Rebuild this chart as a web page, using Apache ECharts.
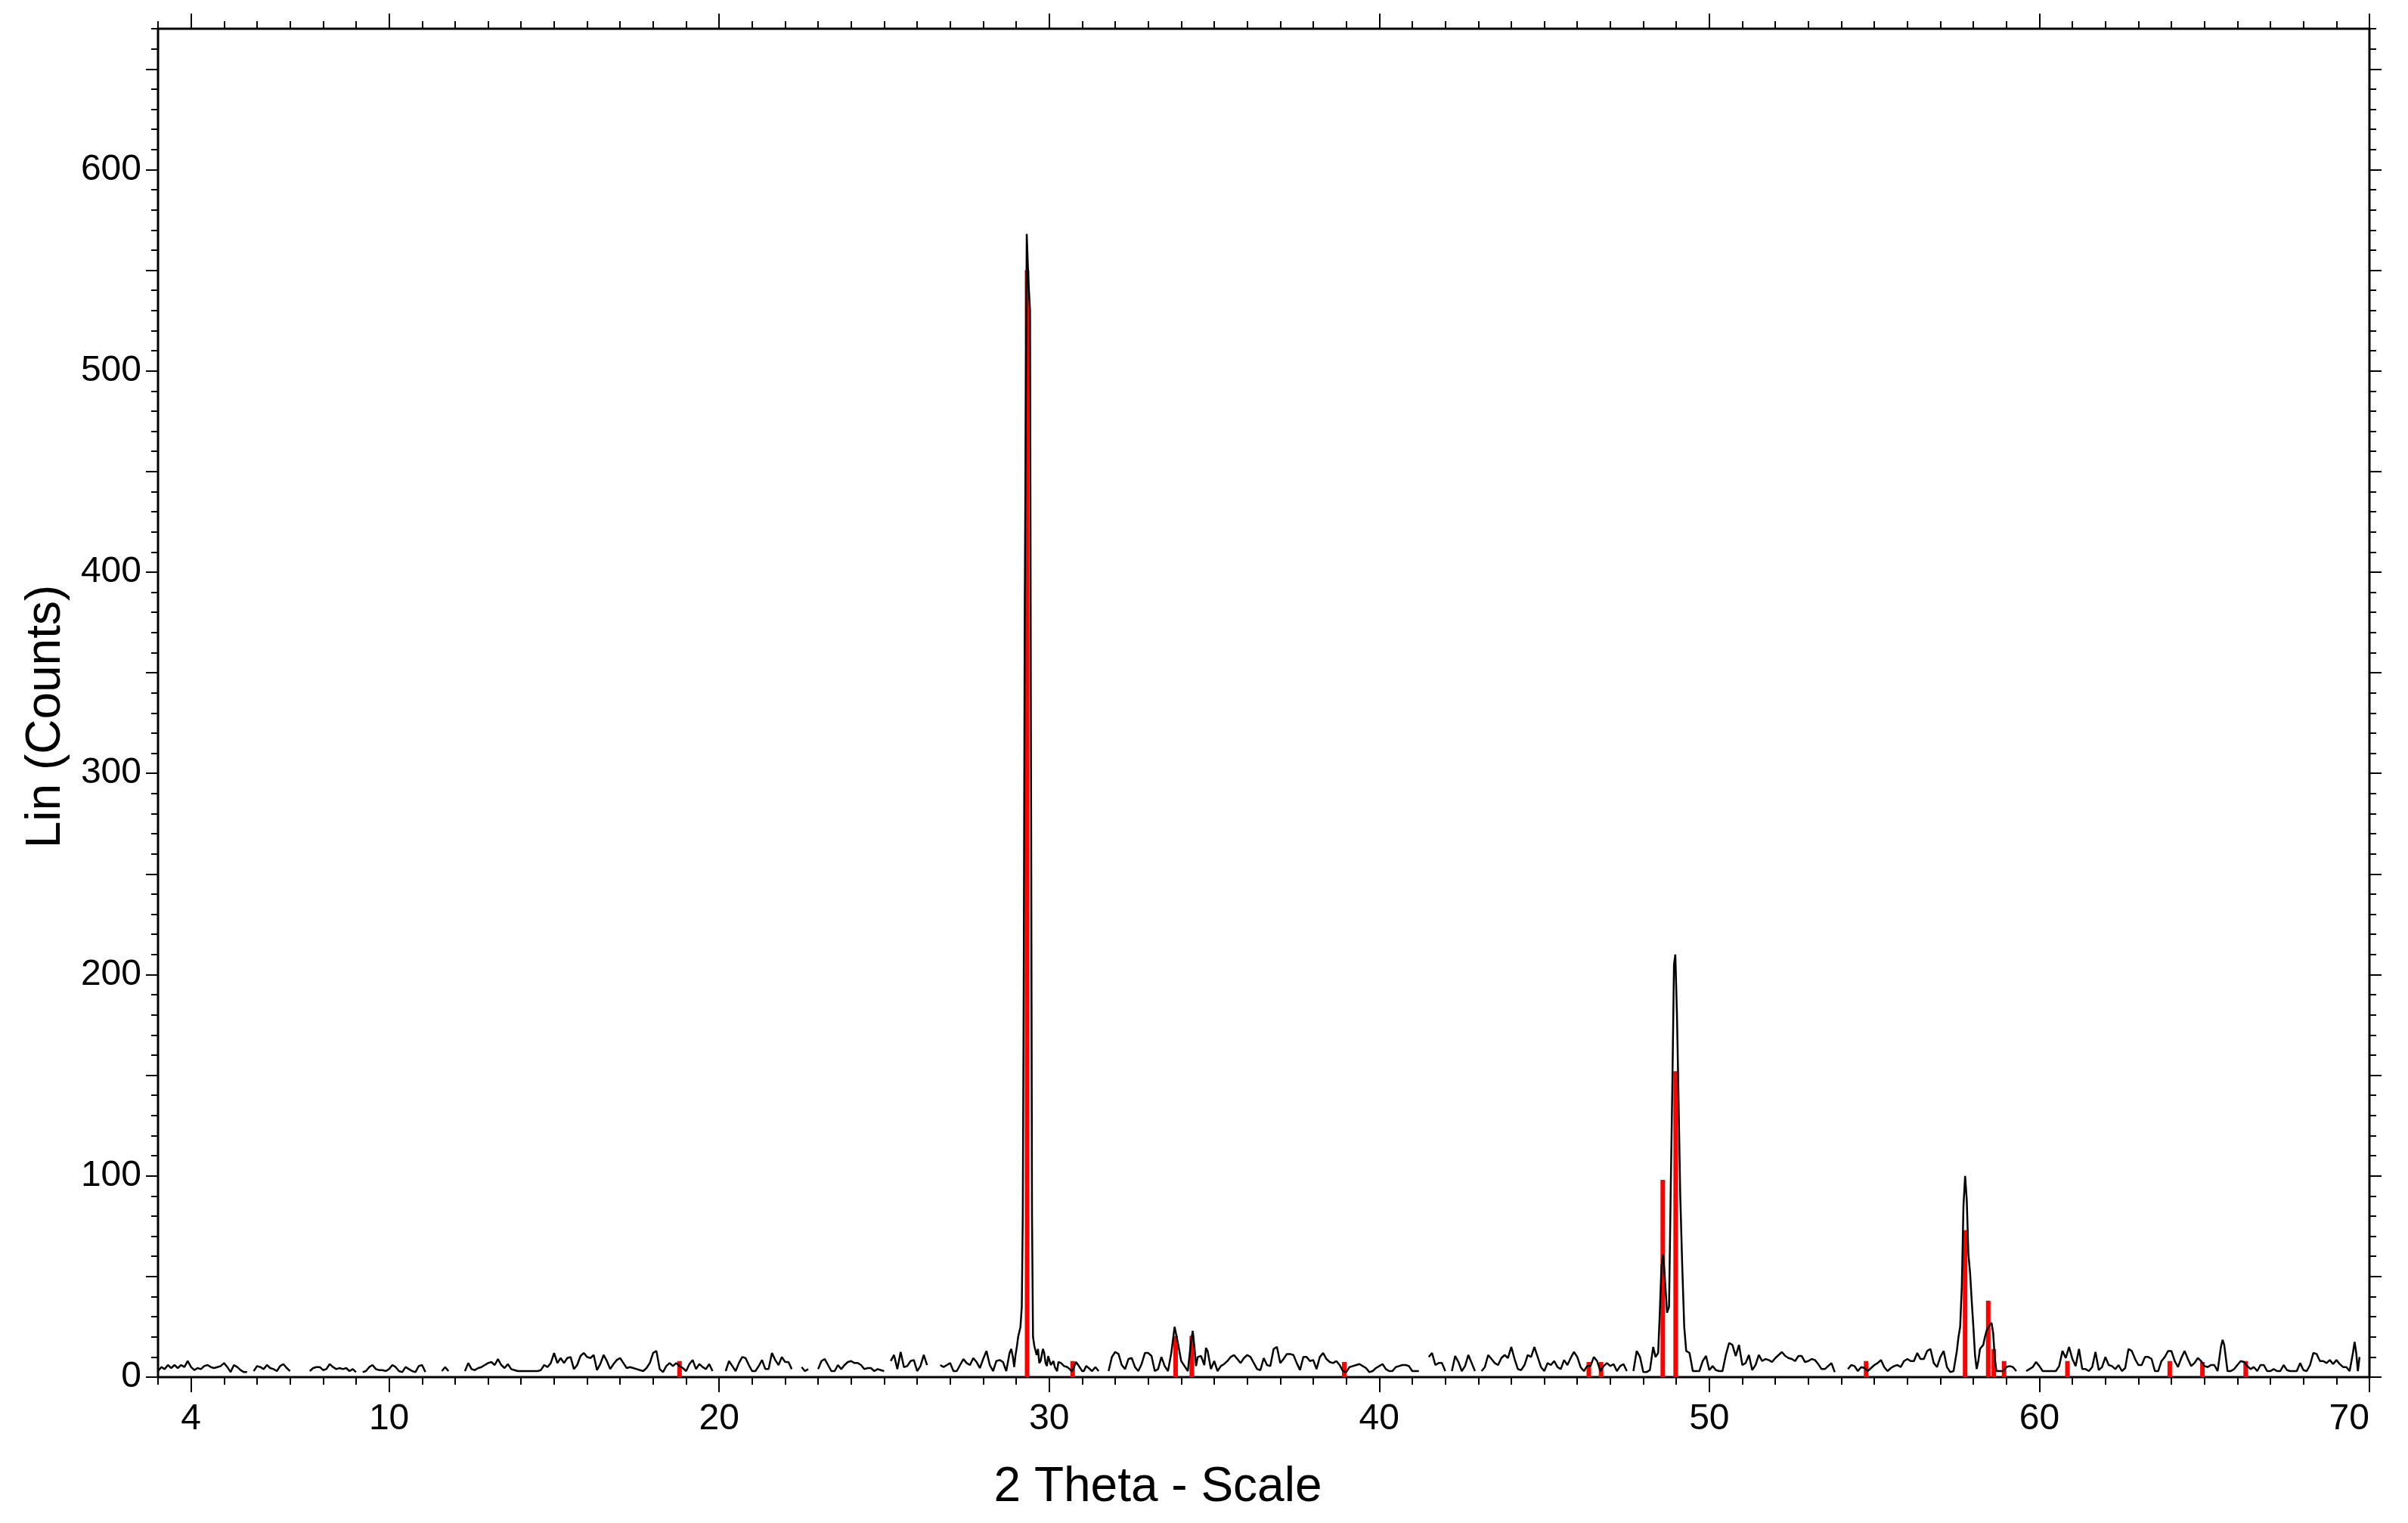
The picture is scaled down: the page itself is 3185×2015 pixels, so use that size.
<!DOCTYPE html>
<html lang="en">

<head>
  <meta charset="UTF-8" />
  <title>XRD pattern</title>
  <style>
    html, body { margin: 0; padding: 0; background: #fff; }
  </style>
</head>

<body>
  <div id="main" style="width: 3185px; height: 2015px;"></div>
  <script src="https://cdn.jsdelivr.net/npm/echarts@6/dist/echarts.min.js"></script>
  <script type="text/javascript">
    // measured scan, [2theta, counts]; null = where the trace drops out
    const scan03to14 = [[3.0,3],[3.1,5],[3.2,4],[3.3,6],[3.4,4.5],[3.5,6],[3.6,4.5],[3.7,6],[3.8,5],[3.9,8],[4.0,5],[4.1,3.5],[4.2,4.5],[4.3,4],[4.4,5.5],[4.5,6],[4.6,5],[4.7,4.5],[4.8,5],[4.9,5.5],[5.0,7],[5.1,5],[5.2,2.5],[5.3,6],[5.4,5],[5.5,3.5],[5.6,2.5],[5.7,2.5],[5.8,null],[5.9,3],[6.0,5.5],[6.1,5],[6.2,4],[6.3,6],[6.4,4.5],[6.5,4],[6.6,3],[6.7,5.5],[6.8,6.5],[6.9,4.5],[7.0,3],[7.1,null],[7.5,null],[7.6,3],[7.7,4.5],[7.8,5],[7.9,5],[8.0,3.5],[8.1,4],[8.2,6.5],[8.3,5],[8.4,4],[8.5,4.5],[8.6,4],[8.7,4.5],[8.8,3],[8.9,4],[9.0,2.5],[9.1,null],[9.2,2.5],[9.3,3],[9.4,5],[9.5,6],[9.6,4],[9.7,3.5],[9.8,3.5],[9.9,3],[10.0,4],[10.1,6],[10.2,5],[10.3,3],[10.4,2.5],[10.5,5],[10.6,4],[10.7,3],[10.8,2.5],[10.9,5.5],[11.0,6],[11.1,2.5],[11.2,null],[11.5,null],[11.6,3],[11.7,5],[11.8,3],[11.9,null],[12.2,null],[12.3,3],[12.4,7],[12.5,4],[12.6,3.5],[12.7,4.5],[12.8,5],[12.9,6],[13.0,7],[13.1,7.5],[13.2,6],[13.3,9],[13.4,6],[13.5,4.5],[13.6,6.5],[13.7,4],[13.8,3.5],[13.9,3],[14.0,3],[14.1,3],[14.2,3]]

    const scan14to25 = [[14.3,3],[14.4,3],[14.5,3],[14.6,3.5],[14.7,6],[14.8,5],[14.9,7],[15.0,12],[15.1,7],[15.2,9.5],[15.3,7],[15.4,9.5],[15.5,10],[15.6,4],[15.7,6],[15.8,10.5],[15.9,12],[16.0,10],[16.1,9.5],[16.2,11],[16.3,3.5],[16.4,6.5],[16.5,11],[16.6,8],[16.7,4],[16.8,6.5],[16.9,8.5],[17.0,9.5],[17.1,7],[17.2,4.5],[17.3,5],[17.4,4.5],[17.5,4],[17.6,3.5],[17.7,3],[17.8,4.5],[17.9,7],[18.0,12],[18.1,13],[18.2,4],[18.3,2.5],[18.4,5.5],[18.5,7],[18.6,5.5],[18.7,7],[18.8,5.5],[18.9,4.5],[19.0,3],[19.1,6.5],[19.2,8.5],[19.3,4],[19.4,6.5],[19.5,5],[19.6,4],[19.7,6.5],[19.8,3],[19.9,null],[20.1,null],[20.2,3],[20.3,8],[20.4,5.5],[20.5,3],[20.6,7],[20.7,10],[20.8,9.5],[20.9,6],[21.0,3],[21.1,3],[21.2,5.5],[21.3,8.5],[21.4,4],[21.5,4],[21.6,12],[21.7,8.5],[21.8,6],[21.9,10],[22.0,7.5],[22.1,7.5],[22.2,4],[22.3,null],[22.4,null],[22.5,5],[22.6,3],[22.7,4],[22.8,null],[22.9,null],[23.0,4],[23.1,8],[23.2,9],[23.3,6],[23.4,3],[23.5,3],[23.6,6],[23.7,4],[23.8,6],[23.9,7.5],[24.0,8],[24.1,7],[24.2,7],[24.3,6],[24.4,4],[24.5,4.5],[24.6,4.5],[24.7,3],[24.8,4],[24.9,3.5],[25.0,3],[25.1,null],[25.2,8],[25.3,11],[25.4,4]]

    const scan25to36 = [[25.5,12.5],[25.6,5],[25.7,5.5],[25.8,8],[25.9,8.5],[26.0,3],[26.1,5.5],[26.2,11],[26.3,6],[26.4,null],[26.6,null],[26.7,6],[26.8,5],[26.9,6],[27.0,7],[27.1,3],[27.2,3],[27.3,6],[27.4,9],[27.5,7],[27.6,6],[27.7,9.5],[27.8,7.5],[27.9,4.5],[28.0,9],[28.1,13],[28.2,6],[28.3,3],[28.4,8],[28.5,8.5],[28.6,7.5],[28.7,3],[28.8,12],[28.85,14],[28.9,10],[28.94,5],[28.98,11],[29.02,15],[29.06,20],[29.13,25],[29.17,35],[29.2,80],[29.23,200],[29.26,384],[29.32,568],[29.37,545],[29.42,530],[29.45,300],[29.48,80],[29.51,20],[29.55,15.5],[29.58,16],[29.62,11],[29.66,14],[29.7,7],[29.74,8],[29.81,14],[29.85,12],[29.89,7],[29.93,5.5],[29.97,10.5],[30.05,6],[30.13,8],[30.17,5],[30.24,3],[30.28,7.5],[30.36,7],[30.45,5.5],[30.55,5],[30.62,4],[30.68,3],[30.74,4.5],[30.81,7.5],[30.9,5.5],[31.0,3],[31.05,3],[31.12,5.5],[31.2,4.5],[31.3,3],[31.4,5],[31.5,3],[31.6,null],[31.7,null],[31.8,3],[31.9,10],[32.0,12.5],[32.1,11.5],[32.2,6],[32.3,4],[32.4,9],[32.5,9.5],[32.6,5],[32.7,3],[32.8,6.5],[32.9,12],[33.0,12],[33.1,10.5],[33.2,3],[33.3,4],[33.4,10],[33.5,5.5],[33.6,3],[33.7,12],[33.8,25],[33.9,17],[34.0,8],[34.1,5.5],[34.2,3],[34.3,18],[34.35,23],[34.4,15],[34.45,5.5],[34.5,10],[34.6,10.5],[34.7,6],[34.75,14.5],[34.8,13],[34.9,4],[35.0,8],[35.1,3],[35.2,5.5],[35.3,6.5],[35.4,8],[35.5,10],[35.6,11],[35.7,9],[35.8,7],[35.9,9.5],[36.0,11],[36.1,10],[36.2,7],[36.3,4],[36.4,3.5],[36.5,9.5],[36.6,6]]

    const scan36to48 = [[36.7,5.5],[36.8,14],[36.9,15],[37.0,7],[37.1,9],[37.2,11.5],[37.3,11.5],[37.4,11],[37.5,7],[37.6,3.5],[37.7,10],[37.8,10],[37.9,8],[38.0,8.5],[38.1,4],[38.2,10],[38.3,12],[38.4,9],[38.5,7.5],[38.6,7],[38.7,8],[38.8,6],[38.9,3],[39.0,2.5],[39.1,5],[39.2,5.5],[39.3,6],[39.4,6.5],[39.5,5.5],[39.6,4.5],[39.7,2.5],[39.8,3],[39.9,4.5],[40.0,5.5],[40.1,6.5],[40.2,4],[40.3,3],[40.4,3],[40.5,5],[40.6,5.5],[40.7,6],[40.8,6],[40.9,5.5],[41.0,3],[41.1,3],[41.2,3],[41.3,null],[41.4,null],[41.5,10],[41.6,12],[41.7,6],[41.8,7],[41.9,7],[42.0,3],[42.1,null],[42.2,3],[42.3,10.5],[42.4,7.5],[42.5,3],[42.6,5.5],[42.7,11],[42.8,7],[42.9,3],[43.0,null],[43.1,3],[43.2,5],[43.3,11],[43.4,9],[43.5,7],[43.6,6],[43.7,9.5],[43.8,11],[43.9,9.5],[44.0,15],[44.1,9],[44.2,4],[44.3,3.5],[44.4,6],[44.5,11],[44.6,10],[44.7,15],[44.8,10],[44.9,5],[45.0,3],[45.1,7],[45.2,6],[45.3,8],[45.4,5],[45.5,4],[45.6,8.5],[45.7,6],[45.8,9.5],[45.9,12.5],[46.0,10],[46.1,5],[46.2,3],[46.3,5.5],[46.4,5.5],[46.5,10],[46.6,8],[46.7,3],[46.8,5.5],[46.9,7],[47.0,5.5],[47.1,6.5],[47.2,3],[47.3,5.5],[47.4,6.5],[47.5,3],[47.6,null],[47.7,3],[47.8,13],[47.9,10]]

    const scan48to59 = [[48.0,2.5],[48.1,2.5],[48.2,3.5],[48.3,15],[48.37,10],[48.45,12],[48.5,32],[48.55,55],[48.6,61],[48.65,50],[48.72,32],[48.78,35],[48.83,92],[48.88,145],[48.93,205],[48.97,210],[49.02,180],[49.06,145],[49.12,90],[49.18,55],[49.24,25],[49.3,13],[49.4,12],[49.5,3],[49.6,3],[49.7,3],[49.8,8],[49.9,10.5],[50.0,3.5],[50.1,5.5],[50.2,3.5],[50.3,3],[50.4,3],[50.5,11],[50.6,17],[50.7,16],[50.8,10.5],[50.9,16],[51.0,6],[51.1,7],[51.2,11],[51.3,3.5],[51.4,6],[51.5,11],[51.6,8],[51.7,9],[51.8,8.5],[51.9,7.5],[52.0,9.5],[52.1,11],[52.2,12.5],[52.3,10.5],[52.4,9.5],[52.5,9],[52.6,8],[52.7,10.5],[52.8,10.5],[52.9,7.5],[53.0,8],[53.1,9],[53.2,8.5],[53.3,6.5],[53.4,4],[53.5,4],[53.6,5.5],[53.7,7],[53.8,2.5],[53.9,null],[54.1,null],[54.2,4],[54.3,6],[54.4,5.5],[54.5,3],[54.6,5],[54.7,4.5],[54.8,3],[54.9,4.5],[55.0,6],[55.1,7],[55.2,8.5],[55.3,5],[55.4,3],[55.5,4.5],[55.6,5.5],[55.7,6],[55.8,5],[55.9,8],[56.0,9],[56.1,8],[56.2,8],[56.3,12],[56.4,9],[56.5,9],[56.6,13],[56.7,14],[56.8,7],[56.9,5],[57.0,10],[57.1,13],[57.2,5],[57.3,2.5],[57.4,3],[57.5,13],[57.55,20],[57.6,25],[57.65,45],[57.7,85],[57.75,100],[57.8,88],[57.85,61],[57.9,52],[57.95,38],[58.0,25],[58.05,11],[58.1,4],[58.15,8],[58.2,14],[58.25,15],[58.3,16],[58.35,20],[58.4,23],[58.5,26],[58.55,27],[58.6,22],[58.65,9],[58.7,3],[58.8,3],[58.9,3],[59.0,5]]

    const scan59to70 = [[59.1,5.5],[59.2,5],[59.3,3],[59.4,null],[59.5,null],[59.6,3],[59.7,4],[59.8,5],[59.9,7.5],[60.0,5.5],[60.1,3],[60.2,3],[60.3,3],[60.4,3],[60.5,3],[60.6,5.5],[60.7,13],[60.8,9.5],[60.9,15],[61.0,9],[61.1,5.5],[61.2,14],[61.3,4],[61.4,4],[61.5,3],[61.6,5],[61.7,12.5],[61.8,3.5],[61.9,5],[62.0,10],[62.1,6],[62.2,5.5],[62.3,4],[62.4,6],[62.5,3],[62.6,4.5],[62.7,14],[62.8,13],[62.9,9],[63.0,6],[63.1,6],[63.2,10],[63.3,10],[63.4,9],[63.5,3],[63.6,3],[63.7,8],[63.8,10],[63.9,13],[64.0,13],[64.1,8],[64.2,5],[64.3,9.5],[64.4,13],[64.5,9],[64.6,5.5],[64.7,7],[64.8,9.5],[64.9,8],[65.0,5.5],[65.1,5],[65.2,6],[65.3,6],[65.4,3],[65.5,15],[65.55,18.5],[65.6,16],[65.7,3],[65.8,3],[65.9,4],[66.0,6],[66.1,8],[66.2,7.5],[66.3,5.5],[66.4,4],[66.5,5],[66.6,3],[66.7,6],[66.8,6],[66.9,3],[67.0,3],[67.1,4],[67.2,3],[67.3,3],[67.4,6],[67.5,3.5],[67.6,3],[67.7,3],[67.8,3],[67.9,7],[68.0,3.5],[68.1,3],[68.2,6],[68.3,12],[68.4,11.5],[68.5,8],[68.6,8],[68.7,7],[68.8,8.5],[68.9,6.5],[69.0,8.5],[69.1,6.5],[69.2,5],[69.3,5],[69.4,3],[69.5,12],[69.55,17.5],[69.6,12],[69.65,3],[69.7,10]]

    // reference pattern sticks (red)
    const refTheta = [18.8, 29.33, 30.71, 33.83, 34.32, 38.94, 46.35, 46.72, 48.59, 48.98, 54.75, 57.75, 58.45, 58.62, 58.93, 60.85, 63.95, 64.94, 66.25]
    const refCounts = [8, 550, 8, 20.5, 20.5, 7.5, 7.5, 7.5, 98, 152, 8, 73, 38, 14, 8, 8, 8, 7.5, 8]

    // axis ticks / labels
    const xLabels = [4, 10, 20, 30, 40, 50, 60, 70]
    const yLabels = [0, 100, 200, 300, 400, 500, 600]
    const yMajorTicks = [0, 50, 100, 150, 200, 250, 300, 350, 400, 450, 500, 550, 600, 650]

    const FONT = '"Liberation Sans", Arial, sans-serif'
    const X_MIN = 3, X_MAX = 70, Y_MIN = 0, Y_MAX = 670

    let scanData = [].concat(scan03to14, scan14to25, scan25to36, scan36to48, scan48to59, scan59to70)
    let refData = refTheta.map((t, i) => [t, refCounts[i]])

    let myChart = echarts.init(document.getElementById('main'), null, { renderer: 'canvas' })

    const tickStyle = { color: '#000', width: 2 }

    // x axis pieces: labels + long ticks, and a plain one for the 1-degree ticks
    function xAxisPart(position, major) {
      return {
        type: 'value', position, min: X_MIN, max: X_MAX,
        interval: major ? undefined : 1,
        axisLine: { show: false, onZero: false },
        splitLine: { show: false },
        axisTick: major
          ? { show: true, customValues: xLabels, length: 20, lineStyle: tickStyle }
          : { show: true, length: 10, lineStyle: tickStyle },
        axisLabel: { show: false }
      }
    }

    function yAxisPart(position, major) {
      return {
        type: 'value', position, min: Y_MIN, max: Y_MAX,
        interval: major ? undefined : 10,
        axisLine: { show: false, onZero: false },
        splitLine: { show: false },
        axisTick: major
          ? { show: true, customValues: yMajorTicks, length: 16, lineStyle: tickStyle }
          : { show: true, length: 9, lineStyle: tickStyle },
        axisLabel: { show: false }
      }
    }

    let mainX = xAxisPart('bottom', true)
    mainX.axisLabel = {
      show: true, customValues: xLabels, fontSize: 48, fontFamily: FONT, color: '#000',
      margin: 32, alignMaxLabel: 'right'
    }
    mainX.name = '2 Theta - Scale'
    mainX.nameLocation = 'middle'
    mainX.nameGap = 114
    mainX.nameTextStyle = { fontSize: 64, fontFamily: FONT, color: '#000', padding: [0, 280, 0, 0] }

    let mainY = yAxisPart('left', true)
    mainY.axisLabel = {
      show: true, customValues: yLabels, fontSize: 48, fontFamily: FONT, color: '#000', margin: 22
    }
    mainY.name = 'Lin (Counts)'
    mainY.nameLocation = 'middle'
    mainY.nameGap = 116
    mainY.nameTextStyle = { fontSize: 64, fontFamily: FONT, color: '#000', padding: [0, 36, 0, 0] }

    let option = {
      animation: false,
      backgroundColor: '#fff',
      grid: {
        left: 209, right: 51, top: 38, bottom: 193,
        show: true, borderColor: '#000', borderWidth: 3, backgroundColor: '#fff'
      },
      xAxis: [mainX, xAxisPart('bottom', false), xAxisPart('top', true), xAxisPart('top', false)],
      yAxis: [mainY, yAxisPart('left', false), yAxisPart('right', true), yAxisPart('right', false)],
      series: [
        {
          name: 'scan',
          type: 'line',
          xAxisIndex: 0, yAxisIndex: 0,
          data: scanData,
          symbol: 'none',
          connectNulls: false,
          lineStyle: { color: '#000', width: 2.5 },
          clip: true
        },
        {
          name: 'reference',
          type: 'bar',
          xAxisIndex: 0, yAxisIndex: 0,
          data: refData,
          barWidth: 6,
          itemStyle: { color: '#ff0000' }
        }
      ]
    }
    myChart.setOption(option)
  </script>
</body>

</html>
